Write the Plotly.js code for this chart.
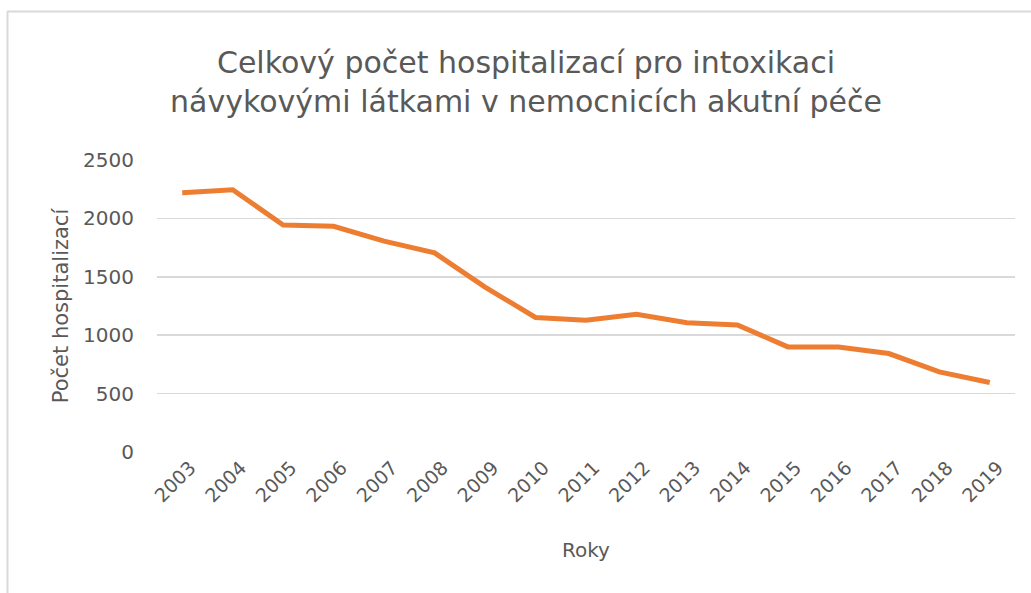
<!DOCTYPE html>
<html>
<head>
<meta charset="utf-8">
<script src="https://cdn.plot.ly/plotly-3.0.1.min.js"></script>
<style>html,body{margin:0;padding:0;background:#fff;}#chart{width:1031px;height:593px;}</style>
</head>
<body>
<div id="chart"></div>
<script>
const years = ["2003","2004","2005","2006","2007","2008","2009","2010","2011","2012","2013","2014","2015","2016","2017","2018","2019"];
const hospitalizations = [2220,2245,1943,1932,1805,1705,1412,1152,1129,1180,1106,1088,900,898,843,686,595];
const titleText = "Celkový počet hospitalizací pro intoxikaci<br>návykovými látkami v nemocnicích akutní péče";
const xTitle = "Roky";
const yTitle = "Počet hospitalizací";

const W = 1031, H = 593;
const m = {l:157, r:16, t:160, b:141};
const pw = W - m.l - m.r, ph = H - m.t - m.b;
const px = v => (v - m.l) / pw;
const py = v => (H - m.b - v) / ph;
const font = "DejaVu Sans, sans-serif";
const grey = "#595959";

const trace = {
  x: years, y: hospitalizations, type: "scatter", mode: "lines",
  line: {color: "#ED7D31", width: 5, shape: "linear"},
  hoverinfo: "x+y"
};
const layout = {
  width: W, height: H,
  margin: m,
  paper_bgcolor: "#fff", plot_bgcolor: "#fff",
  showlegend: false,
  font: {family: font, color: grey, size: 19},
  title: {text: titleText, font: {family: font, size: 30, color: grey, lineposition: "none"},
          x: 526 / W, xref: "container", xanchor: "center",
          y: 1 - 73 / H, yref: "container", yanchor: "top"},
  xaxis: {
    type: "category", range: [-0.5, 16.5], tickangle: -45,
    showgrid: false, zeroline: false, showline: false, ticks: "",
    tickfont: {family: font, size: 19, color: grey}, ticklabelshift: 8,
    title: {text: xTitle, font: {family: font, size: 20, color: grey}, standoff: 37}
  },
  yaxis: {
    range: [0, 2500], dtick: 500, tick0: 0,
    showgrid: true, gridcolor: "#D9D9D9", gridwidth: 1.5, zeroline: false, showline: false, ticks: "",
    tickfont: {family: font, size: 20, color: grey}, ticklabelstandoff: 22,
    title: {text: yTitle, font: {family: font, size: 21, color: grey}, standoff: 8}
  },
  shapes: [
    {type: "line", xref: "paper", yref: "paper", x0: px(7), x1: px(1031), y0: py(11.5), y1: py(11.5), line: {color: "#D9D9D9", width: 2}},
    {type: "line", xref: "paper", yref: "paper", x0: px(7.5), x1: px(7.5), y0: py(11.5), y1: py(593), line: {color: "#D9D9D9", width: 2}}
  ]
};
Plotly.newPlot("chart", [trace], layout, {displayModeBar: false, staticPlot: true});
</script>
</body>
</html>
